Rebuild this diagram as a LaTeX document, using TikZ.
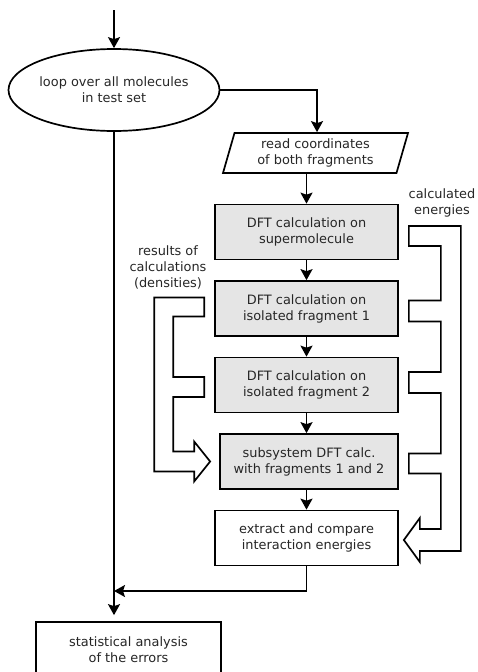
\documentclass[tikz,border=0pt]{standalone}
\usepackage{fontspec}
\setmainfont{DejaVu Sans}
\usetikzlibrary{shapes.geometric,arrows.meta,calc}

\begin{document}
\begin{tikzpicture}[x=1pt, y=-1pt, line width=1.7pt,
    every node/.style={font=\fontsize{12.9}{16}\selectfont, text=black!85, align=center},
    dftbox/.style={draw, fill=black!10, minimum width=183pt, minimum height=55pt, inner sep=0pt},
    plainbox/.style={draw, fill=white, minimum width=183pt, minimum height=55pt, inner sep=0pt},
    flow/.style={-{Stealth[length=11pt, width=12pt, inset=2pt]}},
    wide/.style={line join=miter}]
  \useasboundingbox (0,0) rectangle (478,672);

  % Loop and input
  \coordinate (start) at (114,10);
  \node[draw, ellipse, minimum width=208pt, minimum height=82pt, inner sep=0pt] (loop) at (114,90) {loop over all molecules\\in test set};
  \node[draw, trapezium, trapezium left angle=68, trapezium right angle=112, trapezium stretches body,
        minimum width=185pt, minimum height=40pt, inner sep=0pt] (read) at (315.5,153) {read coordinates\\of both fragments};

  % Calculation chain
  \node[dftbox] (super) at (306.5,232) {DFT calculation on\\supermolecule};
  \node[dftbox] (frag1) at (306.5,308.5) {DFT calculation on\\isolated fragment 1};
  \node[dftbox] (frag2) at (306.5,385) {DFT calculation on\\isolated fragment 2};
  \node[dftbox, minimum width=178pt] (subsys) at (309,461.5) {subsystem DFT calc.\\with fragments 1 and 2};
  \node[plainbox] (extract) at (306.5,538) {extract and compare\\interaction energies};
  \node[plainbox, minimum width=185pt] (stats) at (128.5,649.5) {statistical analysis\\of the errors};

  % Labels of the wide arrows
  \node (dens) at (168,267) {results of\\calculations\\(densities)};
  \node (ener) at (442,203) {calculated\\energies};

  % Connectors
  \draw[flow] (start) -- (loop);
  \draw[flow] (loop.east) -| ($(read.north)+(1.5,0)$);
  \draw[flow] (read.south -| super.north) -- (super.north);
  \draw[flow] (super) -- (frag1);
  \draw[flow] (frag1) -- (frag2);
  \draw[flow] (frag2.south) -- (frag2.south |- subsys.north);
  \draw[flow] (subsys.south -| extract.north) -- (extract.north);
  \coordinate (join) at (114,591);
  \draw[flow] (extract.south) |- (join);
  \draw[flow, shorten >=6pt] (loop.south) -- (loop.south |- stats.north);

  % Densities into the subsystem calculation
  \draw[wide] ($(frag1.west)+(-10,-11)$) -- ($(frag1.west)+(-10,8)$) -- ($(frag1.west)+(-41,8)$)
    -- ($(frag2.west)+(-41,-8)$) -- ($(frag2.west)+(-10,-8)$) -- ($(frag2.west)+(-10,12)$)
    -- ($(frag2.west)+(-41,12)$) -- ($(subsys.west)+(-46,-10)$) -- ($(subsys.west)+(-25,-10)$)
    -- ($(subsys.west)+(-25,-20)$) -- ($(subsys.west)+(-9,0)$) -- ($(subsys.west)+(-25,20)$)
    -- ($(subsys.west)+(-25,10)$) -- ($(subsys.west)+(-65,10)$) -- ($(frag1.west)+(-60,-11)$) -- cycle;

  % Energies into the comparison
  \draw[wide] ($(super.east)+(10,-6)$) -- ($(super.east)+(62,-6)$) -- ($(extract.east)+(62,13)$)
    -- ($(extract.east)+(21,13)$) -- ($(extract.east)+(21,24)$) -- ($(extract.east)+(5,2)$)
    -- ($(extract.east)+(21,-20)$) -- ($(extract.east)+(21,-9)$) -- ($(extract.east)+(42,-9)$)
    -- ($(subsys.east)+(42,12)$) -- ($(subsys.east)+(10,12)$) -- ($(subsys.east)+(10,-8)$)
    -- ($(subsys.east)+(42,-8)$) -- ($(frag2.east)+(42,8)$) -- ($(frag2.east)+(10,8)$)
    -- ($(frag2.east)+(10,-13)$) -- ($(frag2.east)+(42,-13)$) -- ($(frag1.east)+(42,13)$)
    -- ($(frag1.east)+(10,13)$) -- ($(frag1.east)+(10,-8)$) -- ($(frag1.east)+(42,-8)$)
    -- ($(super.east)+(42,14)$) -- ($(super.east)+(10,14)$) -- cycle;
\end{tikzpicture}
\end{document}
